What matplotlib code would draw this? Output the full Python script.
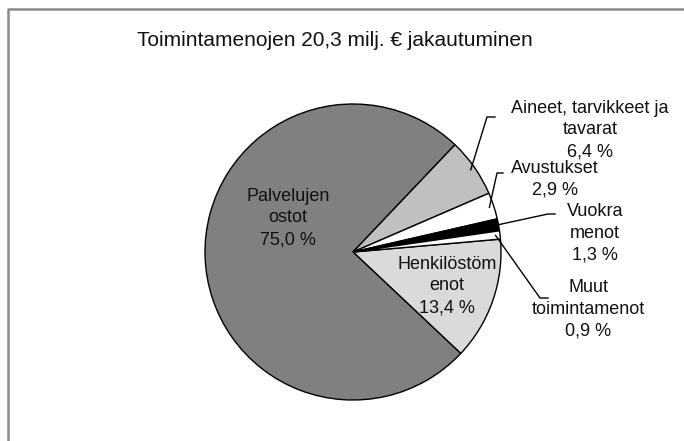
import numpy as np
import matplotlib
matplotlib.use("Agg")
import matplotlib.pyplot as plt
from matplotlib import font_manager

# -----------------------------------------------------------------
# Data
# -----------------------------------------------------------------
labels = [
    "Henkilöstöm\nenot",
    "Palvelujen\nostot",
    "Aineet, tarvikkeet ja\ntavarat",
    "Avustukset",
    "Vuokra\nmenot",
    "Muut\ntoimintamenot",
]
shares = [13.4, 75.0, 6.4, 2.9, 1.3, 0.9]
colors = ["#dadada", "#808080", "#c0c0c0", "#ffffff", "#000000", "#ffffff"]
title = "Toimintamenojen 20,3 milj. € jakautuminen"

W, H = 684, 441
names = {f.name for f in font_manager.fontManager.ttflist}
family = ["Liberation Sans Narrow"] if "Liberation Sans Narrow" in names else ["Liberation Sans"]
plt.rcParams["font.family"] = family + ["DejaVu Sans"]

fig = plt.figure(figsize=(W / 100, H / 100), dpi=100)
ax = fig.add_axes([0, 0, 1, 1])

cx, cy, r = 353, H - 252, 148
wedges, _ = ax.pie(
    shares, colors=colors, startangle=5, counterclock=False,
    center=(cx, cy), radius=r, normalize=True, frame=True,
    wedgeprops=dict(edgecolor="black", linewidth=1),
)
ax.set_xlim(0, W)
ax.set_ylim(0, H)
ax.set_aspect("equal")
ax.axis("off")

def fmt(v):
    return f"{v:.1f}".replace(".", ",") + " %"

def edge_point(w, frac=1.0):
    a = np.deg2rad((w.theta1 + w.theta2) / 2)
    return cx + frac * r * np.cos(a), cy + frac * r * np.sin(a)

fs = 13
ls = 1.38
# inside labels
ax.text(288, H - 218, f"{labels[1]}\n{fmt(shares[1])}", ha="center", va="center",
        fontsize=fs, linespacing=ls, color="#111111")
ax.text(447, H - 286, f"{labels[0]}\n{fmt(shares[0])}", ha="center", va="center",
        fontsize=fs, linespacing=ls, color="#111111")

# outside labels with leader lines
outside = [
    (2, (590, 130), [(487, 117), (495, 117)]),
    (3, (555, 179), [(497, 173), (503, 173)]),
    (4, (595, 233), [(548, 214), (555, 214)]),
    (5, (588, 309), [(540, 298), (548, 298)]),
]
for i, (tx, ty), bends in outside:
    sx, sy = edge_point(wedges[i], 0.97)
    xs = [sx] + [b[0] for b in bends]
    ys = [sy] + [H - b[1] for b in bends]
    ax.plot(xs, ys, color="black", linewidth=1)
    ax.text(tx, H - ty, f"{labels[i]}\n{fmt(shares[i])}", ha="center", va="center",
            fontsize=fs, linespacing=ls, color="#111111")

ax.text(335, H - 41, title, ha="center", va="center", fontsize=15, color="#111111")

# chart frame (runs off the right and bottom edges)
ax.plot([8, 8, W + 10], [-10, H - 9, H - 9], color="#8a8a8a", linewidth=1.8, clip_on=False)

fig.savefig("out.png", dpi=100, facecolor="white")
